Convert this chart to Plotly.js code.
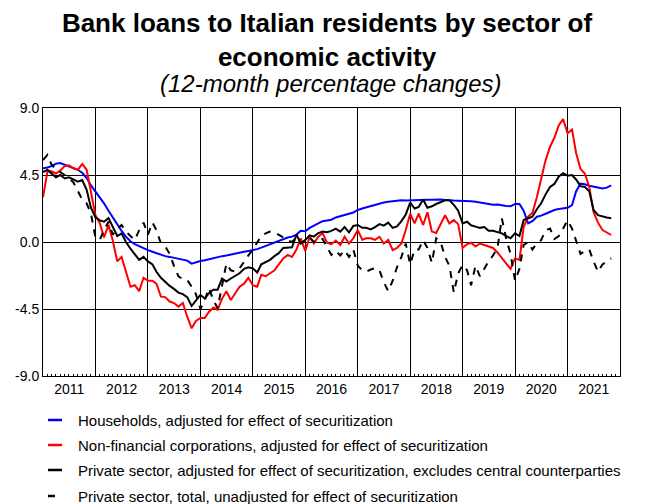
<!DOCTYPE html>
<html>
<head>
<meta charset="utf-8">
<script src="https://cdn.plot.ly/plotly-3.0.1.min.js"></script>
<style>html,body{margin:0;padding:0;background:#fff;}</style>
</head>
<body>
<div id="chart" style="width:654px;height:504px;"></div>
<script>
// ---- Data (monthly, Jan 2011 - Nov 2021) ----
const START_YEAR = 2011;
const N_MONTHS = 131;

const households = [
  4.95, 5.0, 5.1, 5.25, 5.3, 5.2, 5.1, 5.0, 4.85, 4.65,
  4.3, 3.8, 3.4, 3.0, 2.6, 2.1, 1.65, 1.15, 0.75, 0.35,
  0.05, -0.15, -0.3, -0.45, -0.55, -0.65, -0.75, -0.85, -0.95, -1.0,
  -1.05, -1.1, -1.15, -1.25, -1.45, -1.35, -1.28, -1.22, -1.15, -1.1,
  -1.0, -0.95, -0.9, -0.85, -0.78, -0.72, -0.66, -0.6, -0.55, -0.48,
  -0.38, -0.27, -0.15, -0.05, 0.1, 0.2, 0.3, 0.36, 0.5, 0.75,
  0.72, 0.95, 1.1, 1.25, 1.4, 1.45, 1.5, 1.65, 1.75, 1.82,
  1.9, 1.98, 2.15, 2.25, 2.33, 2.42, 2.5, 2.58, 2.65, 2.7,
  2.74, 2.77, 2.8, 2.78, 2.8, 2.82, 2.8, 2.82, 2.84, 2.83,
  2.86, 2.85, 2.82, 2.78, 2.78, 2.77, 2.77, 2.76, 2.74, 2.7,
  2.66, 2.6, 2.55, 2.5, 2.52, 2.45, 2.42, 2.4, 2.55, 2.55,
  2.1, 1.25, 1.4, 1.7, 1.77, 1.9, 2.03, 2.15, 2.22, 2.26,
  2.3, 2.48, 3.4, 3.92, 3.88, 3.78, 3.72, 3.66, 3.6, 3.65, 3.8
];

const nonFinancial = [
  3.0, 4.75, 4.75, 4.6, 4.8, 5.1, 5.15, 4.95, 4.85, 5.25,
  4.85, 3.3, 1.8, 1.25, 0.3, 1.15, 0.1, -1.3, -1.0, -2.0,
  -3.0, -2.9, -3.3, -2.4, -2.6, -2.6, -2.8, -3.67, -3.7, -4.0,
  -4.1, -4.34, -4.1, -5.0, -5.8, -5.3, -5.1, -5.1, -4.7, -4.4,
  -4.55, -3.8, -3.3, -3.9, -3.4, -3.0, -2.8, -2.4, -2.9, -3.0,
  -2.2, -2.3, -2.1, -1.9, -1.5, -1.1, -0.87, -1.0, -0.5, 0.25,
  -0.6, 0.35, -0.1, 0.35, 0.6, -0.05, -0.15, 0.1, -0.2, 0.35,
  -0.1, 0.25, 0.8, 0.15, 0.25, 0.25, 0.15, 0.35, -0.1, 0.15,
  -0.55, -0.4, -0.1, 0.8, 1.9, 1.25, 1.9, 1.14, 2.0, 0.7,
  0.6, 1.25, 1.8, 1.25, 1.48, 1.2, -0.4, -0.15, -0.05, -0.3,
  -0.1, -0.2, -0.3, -0.4, -0.7, -1.1, -1.45, -1.8, -1.1, -1.2,
  1.0, 1.7, 1.95, 3.0, 4.3, 5.5, 6.4, 7.0, 7.85, 8.25,
  7.3, 7.55, 6.0, 4.9, 4.6, 3.7, 2.0, 1.3, 0.8, 0.62, 0.47
];

const privateAdjusted = [
  4.7, 4.85, 4.6, 4.35, 4.5, 4.27, 4.35, 4.2, 4.05, 4.16,
  3.5, 2.3, 1.65, 1.45, 1.36, 1.6, 1.05, 0.4, 0.58, 0.0,
  -0.45, -0.85, -1.2, -1.0, -1.3, -1.5, -2.0, -2.4, -2.7, -2.95,
  -3.15, -3.4, -3.5, -3.7, -4.3, -3.95, -3.56, -3.8, -3.44, -3.2,
  -3.2, -2.45, -2.66, -2.45, -2.3, -2.1, -1.8, -1.7, -1.77, -2.05,
  -1.5, -1.35, -1.2, -0.95, -0.75, -0.4, -0.4, -0.35, 0.5, -0.1,
  0.13, 0.45, 0.36, 0.6, 0.7, 0.65, 0.75, 0.9, 0.7, 1.0,
  0.65, 1.08, 1.14, 0.95, 0.95, 0.85, 1.0, 1.2, 1.1, 1.3,
  0.95, 1.05, 1.4, 1.85, 2.65, 2.25, 2.35, 2.85, 2.3, 2.4,
  2.55, 2.65, 2.8, 2.8, 2.5, 2.1, 1.25, 1.36, 1.12, 1.03,
  0.95, 1.0, 0.75, 0.75, 0.65, 0.58, 0.4, 0.25, 0.58, 0.4,
  1.48, 1.6, 1.7, 2.2, 2.6, 3.2, 3.7, 3.9, 4.4, 4.62,
  4.45, 4.5, 4.2, 3.75, 3.7, 3.4, 2.15, 1.8, 1.7, 1.65, 1.6
];

const privateTotal = [
  5.5, 5.85, 5.2, 4.9, 4.7, 4.5, 4.3, 4.0, 3.4, 2.85,
  2.6, 1.9, 0.3, 0.15, 0.8, 1.36, 0.5, 0.9, 1.14, 0.7,
  0.4, 0.13, 0.8, 1.3, 0.5, 1.3, 0.8, -0.1, -0.3, -0.8,
  -1.6, -2.3, -2.5, -2.55, -3.0, -3.5, -4.5, -3.9, -3.1, -3.9,
  -4.45, -3.0, -1.45, -1.9, -2.0, -1.77, -1.3, -0.9, -0.5, 0.0,
  0.4, 0.58, 0.7, 0.65, 0.5, 0.3, 0.1, 0.0, 0.3, -0.1,
  0.1, 0.3, 0.0, 0.2, 0.2, -0.3, -0.87, -0.6, -0.9, -0.55,
  -1.0, -0.5, -1.6, -1.9, -2.0, -1.85, -1.75, -1.9, -2.7, -3.3,
  -2.6, -1.7, -1.0, -0.1, -1.5, -0.5, -0.5, 0.13, -0.4, -1.4,
  0.25, 0.0, -1.0, -1.6, -3.4, -2.1, -1.55, -1.9, -2.9, -1.6,
  -2.3, -1.8, -1.3, -0.9, -0.4, 1.6, 0.2, -0.8, -2.6, -1.8,
  -0.2, 0.0, -0.5, -0.1, 0.13, 0.8, 0.9, 0.2, 0.4, 0.9,
  1.45, 0.9, 0.1, -0.8, -0.6, -0.5, -1.3, -2.0, -1.5, -1.3, -1.1
];

const seriesNames = [
  'Households, adjusted for effect of securitization',
  'Non-financial corporations, adjusted for effect of securitization',
  'Private sector, adjusted for effect of securitization, excludes central counterparties',
  'Private sector, total, unadjusted for effect of securitization'
];
const yTickVals = [-9, -4.5, 0, 4.5, 9];
const yTickLabels = ['-9.0', '-4.5', '0.0', '4.5', '9.0'];
const midYearTicks = ['2011-07-01','2012-07-01','2013-07-01','2014-07-01','2015-07-01','2016-07-01',
                      '2017-07-01','2018-07-01','2019-07-01','2020-07-01','2021-07-01'];

// ---- Build monthly dates ----
const months = [];
for (let i = 0; i < N_MONTHS; i++) {
  const y = START_YEAR + Math.floor(i / 12);
  const m = (i % 12) + 1;
  months.push(y + '-' + String(m).padStart(2, '0') + '-01');
}

const seriesValues = [households, nonFinancial, privateAdjusted, privateTotal];
const styles = [
  {color: '#0000ff', width: 2, dash: 'solid'},
  {color: '#ff0000', width: 2, dash: 'solid'},
  {color: '#000000', width: 2, dash: 'solid'},
  {color: '#000000', width: 2, dash: '7px,7px'}
];

const traces = seriesValues.map((vals, i) => ({
  x: months, y: vals, type: 'scatter', mode: 'lines',
  name: seriesNames[i], line: styles[i], hoverinfo: 'skip'
}));

// ---- Manual legend (line sample + text) ----
const plotL = 43, plotR = 620, plotT = 108, plotB = 376;
const pw = plotR - plotL, ph = plotB - plotT;
const px2x = p => (p - plotL) / pw;
const px2y = p => (plotB - p) / ph;
const legendRows = [420, 445, 470, 496];
const shapes = [], annotations = [];
seriesNames.forEach((nm, i) => {
  shapes.push({type: 'line', xref: 'paper', yref: 'paper',
    x0: px2x(48), x1: px2x(62), y0: px2y(legendRows[i]), y1: px2y(legendRows[i]),
    line: {color: styles[i].color, width: 2.5, dash: i === 3 ? '7px,7px' : 'solid'}});
  annotations.push({xref: 'paper', yref: 'paper', x: px2x(76), y: px2y(legendRows[i]),
    xanchor: 'left', yanchor: 'middle', showarrow: false, text: nm,
    font: {size: 15, color: '#000'}});
});
annotations.push({xref: 'paper', yref: 'paper', x: px2x(331), y: px2y(84),
  xanchor: 'center', yanchor: 'middle', showarrow: false,
  text: '<i>(12-month percentage changes)</i>', font: {size: 24, color: '#000'}});

const layout = {
  width: 654, height: 504,
  margin: {l: plotL, r: 654 - plotR, t: plotT, b: 504 - plotB, pad: 0},
  paper_bgcolor: '#fff', plot_bgcolor: '#fff',
  font: {family: '"Liberation Sans", Arial, sans-serif', color: '#000', size: 14},
  showlegend: false,
  title: {text: '<b>Bank loans to Italian residents by sector of<br>economic activity</b>',
    font: {size: 26, color: '#000'}, x: 0.5, xref: 'container', xanchor: 'center',
    y: 0.936, yref: 'container', yanchor: 'top'},
  xaxis: {type: 'date', range: ['2011-01-01', '2022-01-01'],
    tick0: '2011-01-01', dtick: 'M12', ticklabelmode: 'period', tickformat: '%Y',
    showgrid: true, gridcolor: '#000', gridwidth: 1, ticks: '',
    showline: true, linecolor: '#000', linewidth: 1, mirror: true,
    tickfont: {size: 14},
    minor: {dtick: 'M1', ticks: 'inside', ticklen: 2, tickcolor: '#000', tickwidth: 1, showgrid: false}},
  xaxis2: {type: 'date', range: ['2011-01-01', '2022-01-01'], overlaying: 'x', anchor: 'y',
    side: 'bottom', tickmode: 'array', tickvals: midYearTicks, showticklabels: false,
    ticks: 'inside', ticklen: 4, tickcolor: '#000', showgrid: false, showline: false, zeroline: false},
  yaxis: {range: [-9, 9], tickmode: 'array', tickvals: yTickVals, ticktext: yTickLabels,
    showgrid: true, gridcolor: '#000', gridwidth: 1, zeroline: false,
    showline: true, linecolor: '#000', linewidth: 1, mirror: true, ticks: '',
    tickfont: {size: 14}},
  yaxis2: {range: [-9, 9], overlaying: 'y', side: 'right', anchor: 'x', tickmode: 'array',
    tickvals: yTickVals, ticktext: yTickLabels, showgrid: false, zeroline: false,
    showline: false, ticks: '', tickfont: {size: 14}},
  shapes: shapes,
  annotations: annotations
};

Plotly.newPlot('chart', traces, layout, {displayModeBar: false, staticPlot: true});
</script>
</body>
</html>
